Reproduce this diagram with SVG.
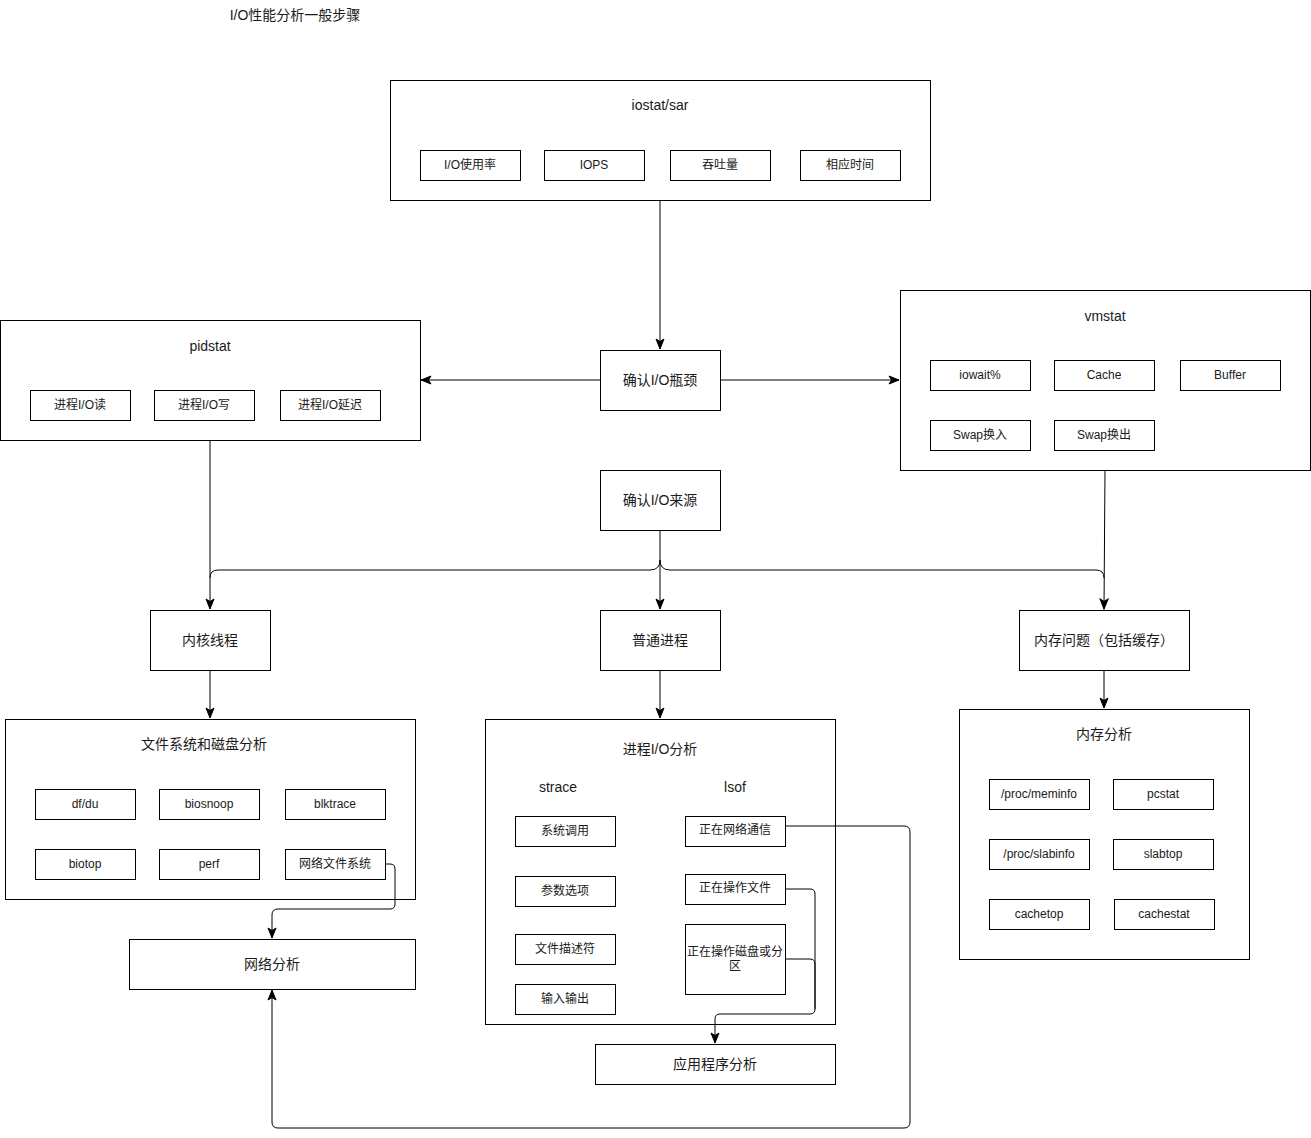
<svg xmlns="http://www.w3.org/2000/svg" width="1311" height="1138" viewBox="0 0 1311 1138">
<defs>
<style>
.b{fill:#fff;stroke:#000;stroke-width:1}
.t{font-family:"Liberation Sans","Noto Sans CJK SC",sans-serif;fill:#1a1a1a;text-anchor:middle;dominant-baseline:central}
.l{font-size:14px}
.s{font-size:12px}
.c{fill:none;stroke:#000;stroke-width:1}
</style>
<marker id="a" markerUnits="userSpaceOnUse" markerWidth="12" markerHeight="12" viewBox="0 0 12 12" refX="11" refY="6" orient="auto">
<path d="M1,2 L11,6 L1,10 L3.5,6 Z" fill="#000" stroke="#000" stroke-width="1"/>
</marker>
</defs>
<rect width="1311" height="1138" fill="#fff"/>
<text class="t l" x="295" y="15">I/O性能分析一般步骤</text>

<g id="iostat">
<rect class="b" x="390.5" y="80.5" width="540" height="120"/>
<text class="t l" x="660" y="105">iostat/sar</text>
<rect class="b" x="420.5" y="150.5" width="100" height="30"/><text class="t s" x="470" y="165">I/O使用率</text>
<rect class="b" x="544.5" y="150.5" width="100" height="30"/><text class="t s" x="594" y="165">IOPS</text>
<rect class="b" x="670.5" y="150.5" width="100" height="30"/><text class="t s" x="720" y="165">吞吐量</text>
<rect class="b" x="800.5" y="150.5" width="100" height="30"/><text class="t s" x="850" y="165">相应时间</text>
</g>

<g id="confirm-bottleneck">
<rect class="b" x="600.5" y="350.5" width="120" height="60"/>
<text class="t l" x="660" y="380">确认I/O瓶颈</text>
</g>

<g id="pidstat">
<rect class="b" x="0.5" y="320.5" width="420" height="120"/>
<text class="t l" x="210" y="346">pidstat</text>
<rect class="b" x="30.5" y="390.5" width="100" height="30"/><text class="t s" x="80" y="405">进程I/O读</text>
<rect class="b" x="154.5" y="390.5" width="100" height="30"/><text class="t s" x="204" y="405">进程I/O写</text>
<rect class="b" x="280.5" y="390.5" width="100" height="30"/><text class="t s" x="330" y="405">进程I/O延迟</text>
</g>

<g id="vmstat">
<rect class="b" x="900.5" y="290.5" width="410" height="180"/>
<text class="t l" x="1105" y="316">vmstat</text>
<rect class="b" x="930.5" y="360.5" width="100" height="30"/><text class="t s" x="980" y="375">iowait%</text>
<rect class="b" x="1054.5" y="360.5" width="100" height="30"/><text class="t s" x="1104" y="375">Cache</text>
<rect class="b" x="1180.5" y="360.5" width="100" height="30"/><text class="t s" x="1230" y="375">Buffer</text>
<rect class="b" x="930.5" y="420.5" width="100" height="30"/><text class="t s" x="980" y="435">Swap换入</text>
<rect class="b" x="1054.5" y="420.5" width="100" height="30"/><text class="t s" x="1104" y="435">Swap换出</text>
</g>

<g id="confirm-source">
<rect class="b" x="600.5" y="470.5" width="120" height="60"/>
<text class="t l" x="660" y="500">确认I/O来源</text>
</g>

<g id="kernel-thread">
<rect class="b" x="150.5" y="610.5" width="120" height="60"/>
<text class="t l" x="210" y="640">内核线程</text>
</g>
<g id="normal-process">
<rect class="b" x="600.5" y="610.5" width="120" height="60"/>
<text class="t l" x="660" y="640">普通进程</text>
</g>
<g id="memory-issue">
<rect class="b" x="1019.5" y="610.5" width="170" height="60"/>
<text class="t l" x="1104" y="640">内存问题（包括缓存）</text>
</g>

<g id="fs-disk">
<rect class="b" x="5.5" y="719.5" width="410" height="180"/>
<text class="t l" x="204" y="744">文件系统和磁盘分析</text>
<rect class="b" x="35.5" y="789.5" width="100" height="30"/><text class="t s" x="85" y="804">df/du</text>
<rect class="b" x="159.5" y="789.5" width="100" height="30"/><text class="t s" x="209" y="804">biosnoop</text>
<rect class="b" x="285.5" y="789.5" width="100" height="30"/><text class="t s" x="335" y="804">blktrace</text>
<rect class="b" x="35.5" y="849.5" width="100" height="30"/><text class="t s" x="85" y="864">biotop</text>
<rect class="b" x="159.5" y="849.5" width="100" height="30"/><text class="t s" x="209" y="864">perf</text>
<rect class="b" x="285.5" y="849.5" width="100" height="30"/><text class="t s" x="335" y="864">网络文件系统</text>
</g>

<g id="network-analysis">
<rect class="b" x="129.5" y="939.5" width="286" height="50"/>
<text class="t l" x="272" y="964">网络分析</text>
</g>

<g id="process-io">
<rect class="b" x="485.5" y="719.5" width="350" height="305"/>
<text class="t l" x="660" y="749">进程I/O分析</text>
<text class="t l" x="558" y="787">strace</text>
<text class="t l" x="735" y="787">lsof</text>
<rect class="b" x="515.5" y="816.5" width="100" height="30"/><text class="t s" x="565" y="831">系统调用</text>
<rect class="b" x="515.5" y="876.5" width="100" height="30"/><text class="t s" x="565" y="891">参数选项</text>
<rect class="b" x="515.5" y="934.5" width="100" height="30"/><text class="t s" x="565" y="949">文件描述符</text>
<rect class="b" x="515.5" y="984.5" width="100" height="30"/><text class="t s" x="565" y="999">输入输出</text>
<rect class="b" x="685.5" y="816.5" width="100" height="30"/><text class="t s" x="735" y="830">正在网络通信</text>
<rect class="b" x="685.5" y="874.5" width="100" height="30"/><text class="t s" x="735" y="888">正在操作文件</text>
<rect class="b" x="685.5" y="924.5" width="100" height="70"/>
<text class="t s" x="735" y="952">正在操作磁盘或分</text>
<text class="t s" x="735" y="966">区</text>
</g>

<g id="app-analysis">
<rect class="b" x="595.5" y="1044.5" width="240" height="40"/>
<text class="t l" x="715" y="1064">应用程序分析</text>
</g>

<g id="memory-analysis">
<rect class="b" x="959.5" y="709.5" width="290" height="250"/>
<text class="t l" x="1104" y="734">内存分析</text>
<rect class="b" x="989.5" y="779.5" width="100" height="30"/><text class="t s" x="1039" y="794">/proc/meminfo</text>
<rect class="b" x="1113.5" y="779.5" width="100" height="30"/><text class="t s" x="1163" y="794">pcstat</text>
<rect class="b" x="989.5" y="839.5" width="100" height="30"/><text class="t s" x="1039" y="854">/proc/slabinfo</text>
<rect class="b" x="1113.5" y="839.5" width="100" height="30"/><text class="t s" x="1163" y="854">slabtop</text>
<rect class="b" x="989.5" y="899.5" width="100" height="30"/><text class="t s" x="1039" y="914">cachetop</text>
<rect class="b" x="1114.5" y="899.5" width="100" height="30"/><text class="t s" x="1164" y="914">cachestat</text>
</g>

<g id="connectors">
<path class="c" d="M660,200 V349" marker-end="url(#a)"/>
<path class="c" d="M600,380 H421" marker-end="url(#a)"/>
<path class="c" d="M720,380 H899" marker-end="url(#a)"/>
<path class="c" d="M210,440 V609" marker-end="url(#a)"/>
<path class="c" d="M1105,470 L1104,609" marker-end="url(#a)"/>
<path class="c" d="M660,530 V609" marker-end="url(#a)"/>
<path class="c" d="M660,560 Q660,570 650,570 H218 Q210,570 210,578"/>
<path class="c" d="M660,560 Q660,570 670,570 H1096 Q1104,570 1104,578"/>
<path class="c" d="M210,670 V718" marker-end="url(#a)"/>
<path class="c" d="M660,670 V718" marker-end="url(#a)"/>
<path class="c" d="M1104,670 V708" marker-end="url(#a)"/>
<path class="c" d="M385,864 H390 Q395,864 395,869 V904 Q395,909 390,909 H278 Q272,909 272,915 V938" marker-end="url(#a)"/>
<path class="c" d="M785,889 H810 Q815,889 815,894 V1009 Q815,1014 810,1014 H720 Q715,1014 715,1019 V1043" marker-end="url(#a)"/>
<path class="c" d="M785,959 H810 Q815,959 815,964 V1009"/>
<path class="c" d="M785,826 H904 Q910,826 910,832 V1122 Q910,1128 904,1128 H278 Q272,1128 272,1122 V990" marker-end="url(#a)"/>
</g>
</svg>
